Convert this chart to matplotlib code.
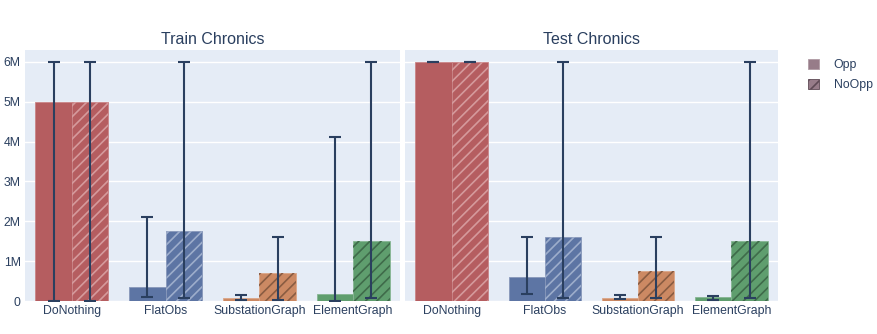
import matplotlib.pyplot as plt
import numpy as np
from matplotlib.patches import Patch

plt.rcParams['font.family'] = ['Liberation Sans', 'DejaVu Sans']
plt.rcParams['hatch.linewidth'] = 1.2

agents = ["DoNothing", "FlatObs", "SubstationGraph", "ElementGraph"]
panels = ["Train Chronics", "Test Chronics"]

# mean values and error-bar ranges (in steps)
train_opp = [5.0e6, 0.35e6, 0.08e6, 0.17e6]
train_opp_lo = [0.0, 0.10e6, 0.02e6, 0.0]
train_opp_hi = [6.0e6, 2.12e6, 0.15e6, 4.12e6]
train_noopp = [5.0e6, 1.75e6, 0.70e6, 1.51e6]
train_noopp_lo = [0.0, 0.08e6, 0.03e6, 0.07e6]
train_noopp_hi = [6.0e6, 6.0e6, 1.61e6, 6.0e6]

test_opp = [6.0e6, 0.59e6, 0.08e6, 0.09e6]
test_opp_lo = [6.0e6, 0.18e6, 0.04e6, 0.03e6]
test_opp_hi = [6.0e6, 1.61e6, 0.16e6, 0.13e6]
test_noopp = [6.0e6, 1.61e6, 0.75e6, 1.50e6]
test_noopp_lo = [6.0e6, 0.08e6, 0.08e6, 0.07e6]
test_noopp_hi = [6.0e6, 6.0e6, 1.61e6, 6.0e6]

colors = ['#B55D60', '#5D75A4', '#CC8963', '#5F9E6E']
edge_colors = ['#C98487', '#8797BA', '#DBA688', '#86B593']
hatch_colors = ['#D59A9C', '#9DADCB', '#8A5C42', '#3F6B4A']

TEXT = '#2a3f5f'
BG = '#E5ECF6'

fig = plt.figure(figsize=(8.78, 3.34), dpi=100)
W, H = 878, 334
bottom = (H - 301) / H
height = 251 / H
ax1 = fig.add_axes([25 / W, bottom, 375 / W, height])
ax2 = fig.add_axes([405 / W, bottom, 373 / W, height])

data = [
    (train_opp, train_opp_lo, train_opp_hi, train_noopp, train_noopp_lo, train_noopp_hi),
    (test_opp, test_opp_lo, test_opp_hi, test_noopp, test_noopp_lo, test_noopp_hi),
]

x = np.arange(len(agents))
w = 0.39
for ax, title, (o, olo, ohi, n, nlo, nhi) in zip([ax1, ax2], panels, data):
    ax.set_facecolor(BG)
    o, olo, ohi = np.array(o), np.array(olo), np.array(ohi)
    n, nlo, nhi = np.array(n), np.array(nlo), np.array(nhi)

    ax.bar(x - w / 2, o, w, color=colors, edgecolor=edge_colors, linewidth=0.6, zorder=2)
    ax.bar(x + w / 2, n, w, color=colors, edgecolor=edge_colors, linewidth=0.6, zorder=2)
    # hatch overlay for NoOpp
    ax.bar(x + w / 2, n, w, color='none', edgecolor=hatch_colors, linewidth=0, hatch='///', zorder=3)

    ax.errorbar(x - w / 2, o, yerr=[o - olo, ohi - o], fmt='none', ecolor=TEXT,
                elinewidth=1.5, capsize=4, capthick=1.5, zorder=4)
    ax.errorbar(x + w / 2, n, yerr=[n - nlo, nhi - n], fmt='none', ecolor=TEXT,
                elinewidth=1.5, capsize=4, capthick=1.5, zorder=4)

    ax.set_xlim(-0.5, len(agents) - 0.5)
    ax.set_ylim(0, 6.3e6)
    ax.set_xticks(x)
    ax.set_xticklabels(agents)
    ax.set_yticks([0, 1e6, 2e6, 3e6, 4e6, 5e6, 6e6])
    ax.grid(axis='y', color='white', linewidth=1, zorder=0)
    ax.set_axisbelow(True)
    for s in ax.spines.values():
        s.set_visible(False)
    ax.tick_params(length=0, colors=TEXT, labelsize=8.8, pad=3)
    ax.set_title(title, color=TEXT, fontsize=11.5, pad=4)

ax1.set_yticklabels(['0', '1M', '2M', '3M', '4M', '5M', '6M'])
ax2.set_yticklabels([])

handles = [
    Patch(facecolor='#977C89', edgecolor='#B09BA5', linewidth=0.6, label='Opp'),
    Patch(facecolor='#977C89', edgecolor='#5E4A55', linewidth=0.6, hatch='///', label='NoOpp'),
]
leg = fig.legend(handles=handles, loc='upper left', bbox_to_anchor=(797 / W, 1 - 48 / H),
                 frameon=False, fontsize=8.8, handlelength=0.9, handleheight=0.9,
                 handletextpad=1.2, labelspacing=0.6, labelcolor=TEXT)

fig.savefig('out.png', dpi=100)
